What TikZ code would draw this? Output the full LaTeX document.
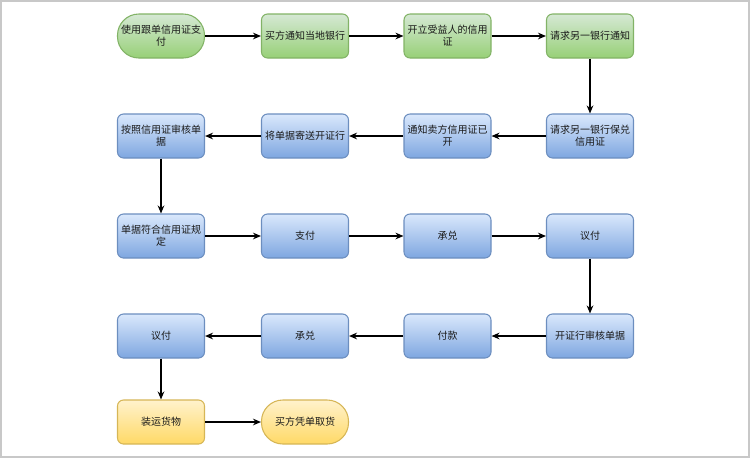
\documentclass[tikz,border=0pt]{standalone}
\usepackage{fontspec}
\newfontfamily\cjk{Noto Sans CJK SC}
\usetikzlibrary{arrows.meta}
\definecolor{gtop}{HTML}{D5E8D4}
\definecolor{gbot}{HTML}{97D077}
\definecolor{gline}{HTML}{82B366}
\definecolor{btop}{HTML}{DAE8FC}
\definecolor{bbot}{HTML}{7EA6E0}
\definecolor{bline}{HTML}{6C8EBF}
\definecolor{ytop}{HTML}{FFF2CC}
\definecolor{ybot}{HTML}{FFD966}
\definecolor{yline}{HTML}{D6B656}
\definecolor{frame}{HTML}{C8C8C8}
\definecolor{txt}{HTML}{1A1A1A}
\begin{document}
\begin{tikzpicture}[x=0.75pt,y=-0.75pt,
  box/.style={rectangle, rounded corners=4.5pt, minimum width=65.25pt, minimum height=33pt,
    inner sep=1pt, text width=62pt, align=center, line width=0.8pt, text=txt,
    font=\cjk\fontsize{7.5}{9}\selectfont},
  pill/.style={box, rounded corners=16pt},
  gbox/.style={top color=gtop, bottom color=gbot, draw=gline},
  bbox/.style={top color=btop, bottom color=bbot, draw=bline},
  ybox/.style={top color=ytop, bottom color=ybot, draw=yline},
  conn/.style={draw=black, line width=1.1pt, -{Stealth[length=6pt,width=5pt]}}
]
\useasboundingbox (0,0) rectangle (750,458);
\draw[frame, line width=1.2pt] (1,1) rectangle (749,457);

% row 1
\node[pill,gbox] (a1) at (161,36) {使用跟单信用证支\\付};
\node[box,gbox] (a2) at (305,36) {买方通知当地银行};
\node[box,gbox] (a3) at (447.5,36) {开立受益人的信用\\证};
\node[box,gbox] (a4) at (590,36) {请求另一银行通知};
% row 2
\node[box,bbox] (b4) at (590,136) {请求另一银行保兑\\信用证};
\node[box,bbox] (b3) at (447.5,136) {通知卖方信用证已\\开};
\node[box,bbox] (b2) at (305,136) {将单据寄送开证行};
\node[box,bbox] (b1) at (161,136) {按照信用证审核单\\据};
% row 3
\node[box,bbox] (c1) at (161,236) {单据符合信用证规\\定};
\node[box,bbox] (c2) at (305,236) {支付};
\node[box,bbox] (c3) at (447.5,236) {承兑};
\node[box,bbox] (c4) at (590,236) {议付};
% row 4
\node[box,bbox] (d4) at (590,336) {开证行审核单据};
\node[box,bbox] (d3) at (447.5,336) {付款};
\node[box,bbox] (d2) at (305,336) {承兑};
\node[box,bbox] (d1) at (161,336) {议付};
% row 5
\node[box,ybox] (e1) at (161,422) {装运货物};
\node[pill,ybox] (e2) at (305,422) {买方凭单取货};

\path[conn] (a1) -- (a2);
\path[conn] (a2) -- (a3);
\path[conn] (a3) -- (a4);
\path[conn] (a4) -- (b4);
\path[conn] (b4) -- (b3);
\path[conn] (b3) -- (b2);
\path[conn] (b2) -- (b1);
\path[conn] (b1) -- (c1);
\path[conn] (c1) -- (c2);
\path[conn] (c2) -- (c3);
\path[conn] (c3) -- (c4);
\path[conn] (c4) -- (d4);
\path[conn] (d4) -- (d3);
\path[conn] (d3) -- (d2);
\path[conn] (d2) -- (d1);
\path[conn] (d1) -- (e1);
\path[conn] (e1) -- (e2);
\end{tikzpicture}
\end{document}
